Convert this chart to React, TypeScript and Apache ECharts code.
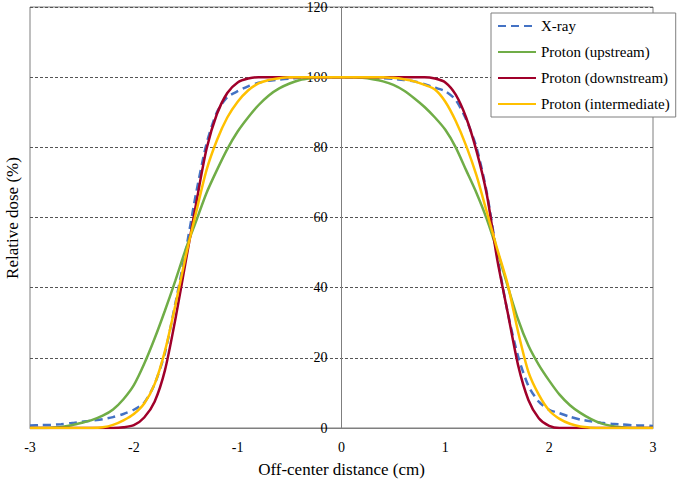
import React, { useEffect, useRef } from "react";
import * as echarts from "echarts";

const XS = [
  -3.0, -2.9, -2.8, -2.7, -2.6, -2.5, -2.4, -2.3, -2.2, -2.1,
  -2.0, -1.9, -1.8, -1.7, -1.6, -1.5, -1.4, -1.3, -1.2, -1.1,
  -1.0, -0.9, -0.8, -0.7, -0.6, -0.5, -0.4, -0.3, -0.2, -0.1,
  0,
  0.1, 0.2, 0.3, 0.4, 0.5, 0.6, 0.7, 0.8, 0.9, 1.0,
  1.1, 1.2, 1.3, 1.4, 1.5, 1.6, 1.7, 1.8, 1.9, 2.0,
  2.1, 2.2, 2.3, 2.4, 2.5, 2.6, 2.7, 2.8, 2.9, 3.0,
];

const XRAY = [
  0.7, 0.8, 0.9, 1.1, 1.4, 1.8, 2.1, 2.5, 3.1, 4.0,
  5.2, 7.2, 12.5, 21.5, 35.5, 50.5, 67, 81, 90, 94.3,
  96, 97.4, 98.4, 99, 99.3, 99.6, 99.8, 100, 100, 100,
  100,
  100, 100, 99.9, 99.7, 99.5, 99.2, 98.8, 98, 97, 96,
  93.5, 88, 80, 67, 49, 33, 20.5, 12, 7.5, 5.2,
  4.2, 3.2, 2.4, 1.9, 1.5, 1.2, 1.0, 0.8, 0.7, 0.6,
];

const UPSTREAM = [
  0, 0, 0.1, 0.3, 0.8, 1.5, 2.3, 3.5, 5.3, 8.2,
  12.2, 18.3, 25.5, 33.5, 42, 51, 59, 67, 73.5, 79.5,
  84.5, 88.5, 92, 94.8, 96.8, 98.2, 99.2, 99.7, 100, 100,
  100,
  100, 99.8, 99.4, 98.8, 97.8, 96.2, 94, 91.5, 88.5, 85,
  80, 73.5, 67, 59.5, 50.5, 40.5, 31, 23.5, 18, 13.5,
  9.5, 6.5, 4.3, 2.6, 1.3, 0.6, 0.2, 0, 0, 0,
];

const DOWNSTREAM = [
  0, 0, 0, 0, 0, 0, 0, 0, 0, 0.2,
  0.8, 3, 7.5, 16.5, 31, 47.5, 64, 79.5, 89.5, 95.5,
  98.5, 99.6, 100, 100, 100, 100, 100, 100, 100, 100,
  100,
  100, 100, 100, 100, 100, 100, 100, 100, 99.6, 98.5,
  95, 88.5, 79, 66.5, 48, 33, 18, 8, 2.8, 0.6,
  0, 0, 0, 0, 0, 0, 0, 0, 0, 0,
];

const INTERMEDIATE = [
  0, 0, 0, 0, 0, 0, 0, 0.2, 0.9, 2.2,
  4, 7, 12.5, 22, 35, 49, 61.5, 73.5, 82, 88.5,
  93, 96.2, 98.2, 99.2, 99.7, 100, 100, 100, 100, 100,
  100,
  100, 100, 100, 100, 99.8, 99.4, 98.8, 97.8, 96.5, 93,
  87.5, 80.5, 72, 61.5, 51, 41, 27.5, 16, 9.5, 5,
  2.6, 1.2, 0.4, 0.1, 0, 0, 0, 0, 0, 0,
];

const SERIES_NAMES = [
  "X-ray",
  "Proton (upstream)",
  "Proton (downstream)",
  "Proton (intermediate)",
];
const SERIES_VALUES = [XRAY, UPSTREAM, DOWNSTREAM, INTERMEDIATE];
const COLORS = ["#4472C4", "#70AD47", "#A0002A", "#FFC000"];

const FONT = "Liberation Serif, Times New Roman, serif";

export default function App() {
  const ref = useRef<HTMLDivElement>(null);

  useEffect(() => {
    document.body.style.margin = "0";
    if (!ref.current) return;
    const chart = echarts.init(ref.current, null, { renderer: "svg" });

    const series = SERIES_VALUES.map((vals, i) => ({
      name: SERIES_NAMES[i],
      type: "line",
      data: XS.map((x, j) => [x, vals[j]]),
      showSymbol: false,
      symbol: "none",
      smooth: 0.25,
      lineStyle: {
        color: COLORS[i],
        width: 2.5,
        type: i === 0 ? [8, 5] : "solid",
      },
      itemStyle: { color: COLORS[i] },
    }));

    chart.setOption({
      animation: false,
      backgroundColor: "#ffffff",
      textStyle: { fontFamily: FONT },
      grid: {
        left: 30,
        right: 32,
        top: 7,
        bottom: 56,
        show: true,
        borderColor: "#7f7f7f",
        borderWidth: 1,
        containLabel: false,
      },
      xAxis: {
        type: "value",
        min: -3,
        max: 3,
        interval: 1,
        name: "Off-center distance (cm)",
        nameLocation: "middle",
        nameGap: 33,
        nameTextStyle: { fontFamily: FONT, fontSize: 17, color: "#000" },
        axisLine: { show: true, onZero: false, lineStyle: { color: "#7f7f7f", width: 1 } },
        axisTick: { show: false },
        splitLine: { show: false },
        axisLabel: { fontFamily: FONT, fontSize: 14, color: "#000", margin: 12 },
      },
      yAxis: {
        type: "value",
        min: 0,
        max: 120,
        interval: 20,
        position: "left",
        offset: -311.5,
        axisLine: { show: true, onZero: false, lineStyle: { color: "#7f7f7f", width: 1 } },
        axisTick: { show: false },
        splitLine: {
          show: true,
          lineStyle: { color: "#555", width: 1, type: [3, 2] },
        },
        axisLabel: { fontFamily: FONT, fontSize: 14, color: "#000", margin: 14 },
      },
      legend: {
        left: 491,
        top: 13,
        orient: "vertical",
        backgroundColor: "#ffffff",
        borderColor: "#7f7f7f",
        borderWidth: 1,
        borderRadius: 0,
        padding: [4, 6, 4, 6],
        itemWidth: 38,
        itemHeight: 14,
        itemGap: 8,
        itemStyle: { opacity: 0, color: "transparent", borderWidth: 0 },
        textStyle: { fontFamily: FONT, fontSize: 15, color: "#000", lineHeight: 18 },
        data: SERIES_NAMES,
      },
      graphic: [
        {
          type: "text",
          x: 12,
          y: 218,
          rotation: Math.PI / 2,
          style: {
            text: "Relative dose (%)",
            fontFamily: FONT,
            fontSize: 17,
            fill: "#000",
            textAlign: "center",
            textVerticalAlign: "middle",
          },
        },
      ],
      series,
    });

    return () => chart.dispose();
  }, []);

  return <div ref={ref} style={{ width: 685, height: 484 }} />;
}
